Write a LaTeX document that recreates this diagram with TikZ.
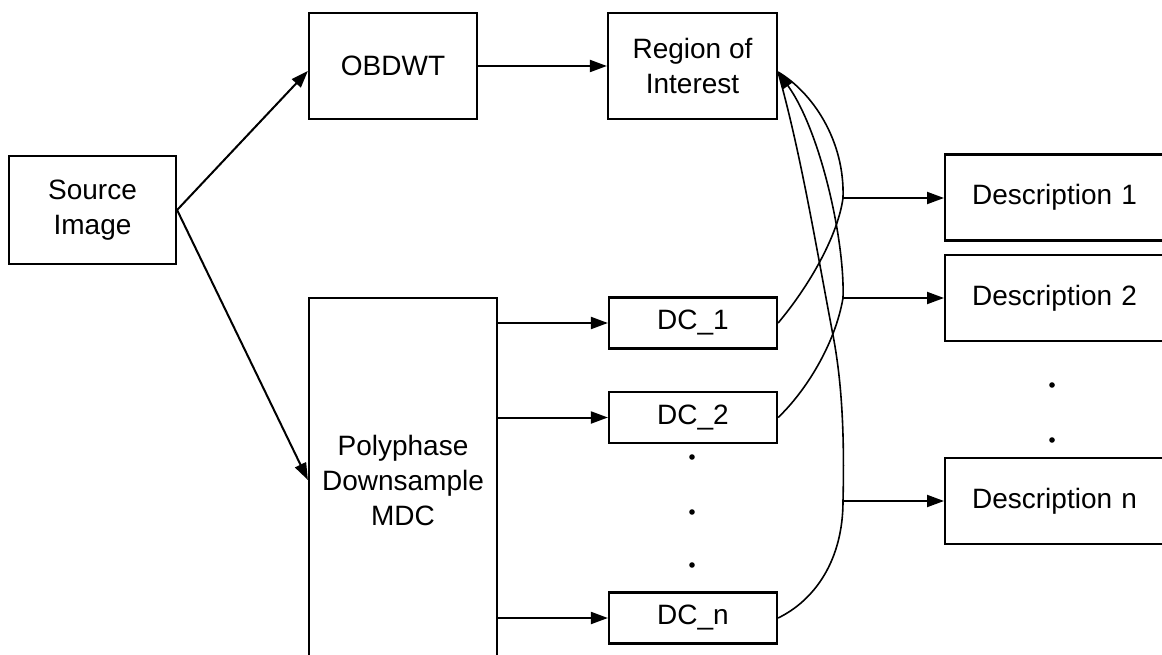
\documentclass[tikz,border=0pt]{standalone}
\usepackage{fontspec}
\setmainfont{Liberation Sans}
\usetikzlibrary{arrows.meta, positioning}

\begin{document}
\begin{tikzpicture}[
    x=1pt, y=-1pt,
    font=\fontsize{28}{35}\selectfont,
    block/.style    = {rectangle, draw, line width=2.2pt, inner sep=0pt,
                       align=center},
    dcbox/.style    = {block, minimum width=168pt, minimum height=51pt},
    descbox/.style  = {rectangle, draw, line width=2.2pt, inner ysep=0pt, inner xsep=27pt,
                       text width=196pt, align=left, minimum height=86pt, anchor=west},
    arrow/.style    = {-{Triangle[length=17pt,width=12pt]}, line width=2pt},
    link/.style     = {line width=1.6pt},
]
\useasboundingbox (0,0) rectangle (1162,655);

\node[block, minimum width=167pt, minimum height=108pt] (src)   at (92.5,210) {Source\\Image};
\node[block, minimum width=168pt, minimum height=106pt] (obdwt) at (393,66)   {OBDWT};
\node[block, minimum width=169pt, minimum height=106pt] (roi)   at (692.5,66) {Region of\\Interest};
\node[block, minimum width=188pt, minimum height=364pt] (poly)  at (403,480)  {Polyphase\\Downsample\\MDC};

\node[dcbox] (dc1) at (693,323)   {DC\_1};
\node[dcbox] (dc2) at (693,417.5) {DC\_2};
\node[dcbox] (dcn) at (693,618)   {DC\_n};

\node[descbox] (d1) at (944,197.5) {Description 1};
\node[descbox] (d2) at (944,298)   {Description 2};
\node[descbox] (dn) at (944,501)   {Description n};

% branch points on the curves
\coordinate (tip) at (778,72);
\coordinate (b1)  at (843,198);
\coordinate (b2)  at (843,298);
\coordinate (bn)  at (843,501);

\draw[arrow] (src.east) -- ([yshift=-5pt]obdwt.west);
\draw[arrow] (src.east) -- (poly.west);
\draw[arrow] (obdwt)    -- (roi);

\draw[arrow] (poly.east |- dc1) -- (dc1);
\draw[arrow] (poly.east |- dc2) -- (dc2);
\draw[arrow] (poly.east |- dcn) -- (dcn);

\draw[link] (dc1.east) .. controls (810,285) and (838,235) .. (b1)
            .. controls (845,140) and (812,92) .. (tip);
\draw[link, -{Triangle[length=17pt,width=12pt]}] (dc2.east) .. controls (805,392) and (835,345) .. (b2)
            .. controls (845,240) and (820,130) .. (tip);
\draw[link] (dcn.east) .. controls (815,600) and (843,560) .. (bn)
            .. controls (845,420) and (840,370) .. (832,330)
            .. controls (815,240) and (800,150) .. (tip);

\draw[arrow] (b1) -- (b1 -| d1.west);
\draw[arrow] (b2) -- (b2 -| d2.west);
\draw[arrow] (bn) -- (bn -| dn.west);

\foreach \y in {457,512,565} \fill (692,\y) circle (2.8pt);
\foreach \y in {385,440} \fill (1052,\y) circle (2.8pt);

\end{tikzpicture}
\end{document}
